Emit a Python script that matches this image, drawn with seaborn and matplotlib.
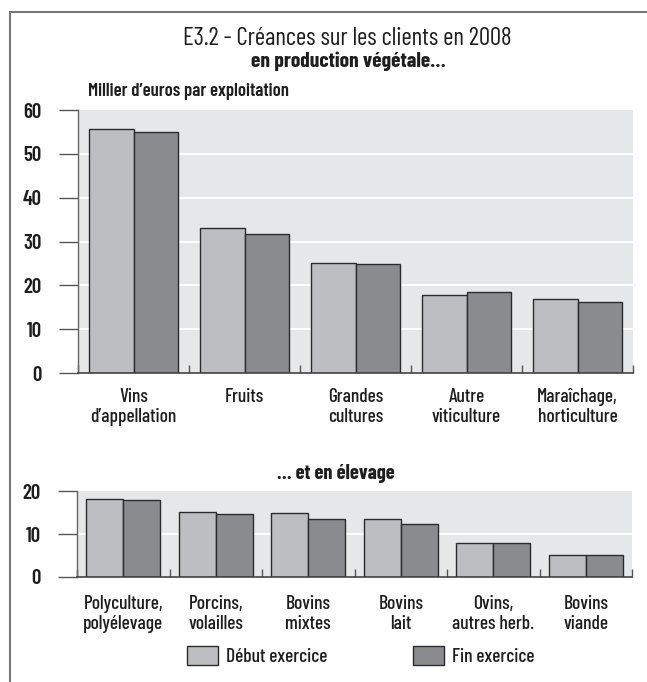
import numpy as np
import pandas as pd
import matplotlib
matplotlib.use("Agg")
import matplotlib.pyplot as plt
from matplotlib.patches import Patch
from matplotlib.lines import Line2D
import seaborn as sns

# values (milliers d'euros par exploitation)
veg_labels = ["Vins\nd\u2019appellation", "Fruits", "Grandes\ncultures",
              "Autre\nviticulture", "Maraîchage,\nhorticulture"]
veg_debut = [55.7, 33.2, 25.0, 17.8, 16.9]
veg_fin = [55.0, 31.8, 24.8, 18.4, 16.3]

elev_labels = ["Polyculture,\npolyélevage", "Porcins,\nvolailles", "Bovins\nmixtes",
               "Bovins\nlait", "Ovins,\nautres herb.", "Bovins\nviande"]
elev_debut = [18.2, 15.1, 14.9, 13.5, 7.9, 5.0]
elev_fin = [18.0, 14.6, 13.4, 12.4, 8.0, 5.1]

series = ["Début exercice", "Fin exercice"]
colors = ["#bdbec2", "#8a8b8f"]
bg = "#e6e7e9"
edge = "#2b2b2b"
ink = "#1e1e1e"

sns.set_theme(style="white")
plt.rcParams['font.family'] = ['Barlow Condensed', 'Roboto Condensed', 'DejaVu Sans']


def long_df(labels, debut, fin):
    return pd.DataFrame({
        "cat": labels * 2,
        "val": debut + fin,
        "serie": [series[0]] * len(labels) + [series[1]] * len(labels),
    })


def draw(ax, df, labels, ymax, step, xpad):
    sns.barplot(data=df, x="cat", y="val", hue="serie", order=labels,
                hue_order=series, palette=colors, width=0.8,
                edgecolor=edge, linewidth=1.0, saturation=1, ax=ax, legend=False)
    ax.set_facecolor(bg)
    ax.set_ylim(0, ymax)
    ax.set_xlim(-0.5, len(labels) - 0.5)
    ax.set_yticks(np.arange(0, ymax + 1, step))
    for y in np.arange(step, ymax, step):
        ax.axhline(y, color="white", lw=1.4, zorder=0.5)
    ax.set_axisbelow(True)
    ax.set_xlabel("")
    ax.set_ylabel("")
    for s in ["top", "right"]:
        ax.spines[s].set_visible(False)
    ax.spines["left"].set_color("#666666")
    ax.spines["left"].set_linewidth(1.0)
    ax.spines["bottom"].set_color("#444444")
    ax.spines["bottom"].set_linewidth(1.2)
    ax.tick_params(axis="y", direction="out", length=14, width=1.0,
                   color="#555555", labelsize=15, pad=12, left=True,
                   labelcolor=ink)
    ax.tick_params(axis="x", length=0, labelsize=14, pad=xpad, labelcolor=ink)
    ax.set_xticks(np.arange(-0.5, len(labels), 1), minor=True)
    ax.tick_params(axis="x", which="minor", direction="in", length=6,
                   width=1.0, color="#555555", bottom=True)
    for lab in ax.get_yticklabels():
        lab.set_fontweight("semibold")
    for lab in ax.get_xticklabels():
        lab.set_linespacing(1.12)
        lab.set_fontweight("medium")


fig = plt.figure(figsize=(6.47, 6.82), dpi=100)

ax1 = fig.add_axes([0.1206, 0.453, 0.858, 0.3857])
draw(ax1, long_df(veg_labels, veg_debut, veg_fin), veg_labels, 60, 10, 11)

ax2 = fig.add_axes([0.119, 0.154, 0.858, 0.126])
draw(ax2, long_df(elev_labels, elev_debut, elev_fin), elev_labels, 20, 10, 13)

# titles
fig.text(0.537, 0.944, "E3.2 - Créances sur les clients en 2008", ha="center",
         va="center", fontsize=18, color=ink)
fig.text(0.538, 0.910, "en production végétale\u2026", ha="center", va="center",
         fontsize=15.5, fontweight="bold", color=ink)
fig.text(0.136, 0.866, "Millier d\u2019euros par exploitation", ha="left",
         va="center", fontsize=13.5, fontweight="semibold", color=ink)
fig.text(0.519, 0.306, "\u2026 et en élevage", ha="center", va="center",
         fontsize=14.7, fontweight="bold", color=ink)

# frame around the chart (top and left edges)
fig.add_artist(Line2D([0.0155, 1.0], [0.982, 0.982], color="#777777", lw=1.5,
                      transform=fig.transFigure))
fig.add_artist(Line2D([0.0155, 0.0155], [0.0, 0.982], color="#777777", lw=1.5,
                      transform=fig.transFigure))

handles = [Patch(facecolor=c, edgecolor=edge, linewidth=1.0) for c in colors]
fig.legend(handles, series, ncol=2, loc="center", bbox_to_anchor=(0.558, 0.038),
           frameon=False, handlelength=1.6, handleheight=1.13,
           columnspacing=4.4, handletextpad=0.41, labelcolor=ink,
           prop={"weight": "medium", "size": 14})

fig.savefig("out.png", dpi=100)
